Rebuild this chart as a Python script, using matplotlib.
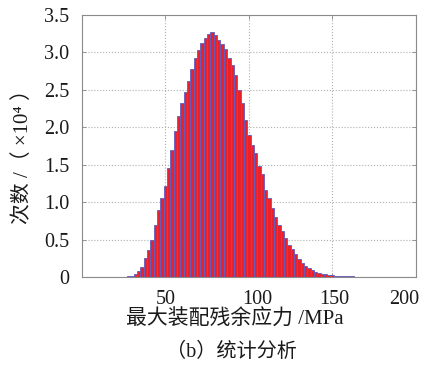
import matplotlib
matplotlib.use("Agg")
import matplotlib.pyplot as plt
import matplotlib.transforms as mtransforms

# bin centres (MPa) and counts (x10^4)
stress = list(range(20, 194, 2))
counts = [
    0.003, 0.004, 0.005, 0.007, 0.010, 0.020, 0.040, 0.080, 0.140, 0.250,
    0.360, 0.500, 0.700, 0.900, 1.050, 1.220, 1.450, 1.700, 1.950, 2.150,
    2.330, 2.470, 2.620, 2.780, 2.920, 3.030, 3.120, 3.190, 3.240, 3.270,
    3.230, 3.170, 3.110, 3.040, 2.930, 2.830, 2.700, 2.500, 2.320, 2.100,
    1.900, 1.760, 1.660, 1.480, 1.380, 1.160, 1.050, 0.920, 0.800, 0.700,
    0.610, 0.520, 0.430, 0.370, 0.310, 0.240, 0.190, 0.150, 0.120, 0.090,
    0.070, 0.055, 0.045, 0.035, 0.028, 0.022, 0.018, 0.015, 0.012, 0.010,
    0.009, 0.008, 0.007, 0.006, 0.006, 0.005, 0.005, 0.004, 0.004, 0.004,
    0.003, 0.003, 0.003, 0.003, 0.002, 0.002, 0.002,
]
xticks = [50, 100, 150, 200]
yticks = [0, 0.5, 1.0, 1.5, 2.0, 2.5, 3.0, 3.5]
ytick_labels = ["0", "0.5", "1.0", "1.5", "2.0", "2.5", "3.0", "3.5"]

fonts = ["Liberation Serif", "Noto Sans CJK SC", "DejaVu Sans"]
plt.rcParams["font.family"] = fonts

fig = plt.figure(figsize=(4.24, 3.66), dpi=100)
ax = fig.add_axes([0.193, 0.243, 0.788, 0.716])

ax.bar(stress, counts, width=2, color="#e8212b", edgecolor="#5b5fc7",
       linewidth=0.6, zorder=2)

ax.set_xlim(0, 200)
ax.set_ylim(0, 3.5)
ax.set_xticks(xticks)
ax.set_yticks(yticks)
ax.set_yticklabels(ytick_labels)
ax.grid(True, linestyle=":", color="#b0b0b0", linewidth=0.8, zorder=0)
ax.set_axisbelow(True)
ax.tick_params(direction="in", length=3, width=0.6, colors="#888888",
               labelcolor="#1a1a1a", labelsize=14.5, pad=9,
               top=True, right=True)
for s in ax.spines.values():
    s.set_color("#8a8a8a")
    s.set_linewidth(0.8)

# the printed labels are not quite centred on their ticks
fig.canvas.draw()
shifts = [0, 8, 2, -12]
for lab, dx in zip(ax.get_xticklabels(), shifts):
    lab.set_transform(lab.get_transform() +
                      mtransforms.ScaledTranslation(dx / 100, 0, fig.dpi_scale_trans))

ax.set_xlabel("最大装配残余应力 /MPa", fontsize=15, color="#1a1a1a", va="center")
ax.xaxis.set_label_coords(0.458, -0.164)
ax.set_ylabel("次数 /（ ×10⁴ ）", fontsize=15, color="#1a1a1a", va="center")
ax.yaxis.set_label_coords(-0.177, 0.477)
fig.text(0.545, 0.038, "（b）统计分析", ha="center", va="center",
         fontsize=14.5, color="#1a1a1a")

fig.savefig("out.png", dpi=100)
